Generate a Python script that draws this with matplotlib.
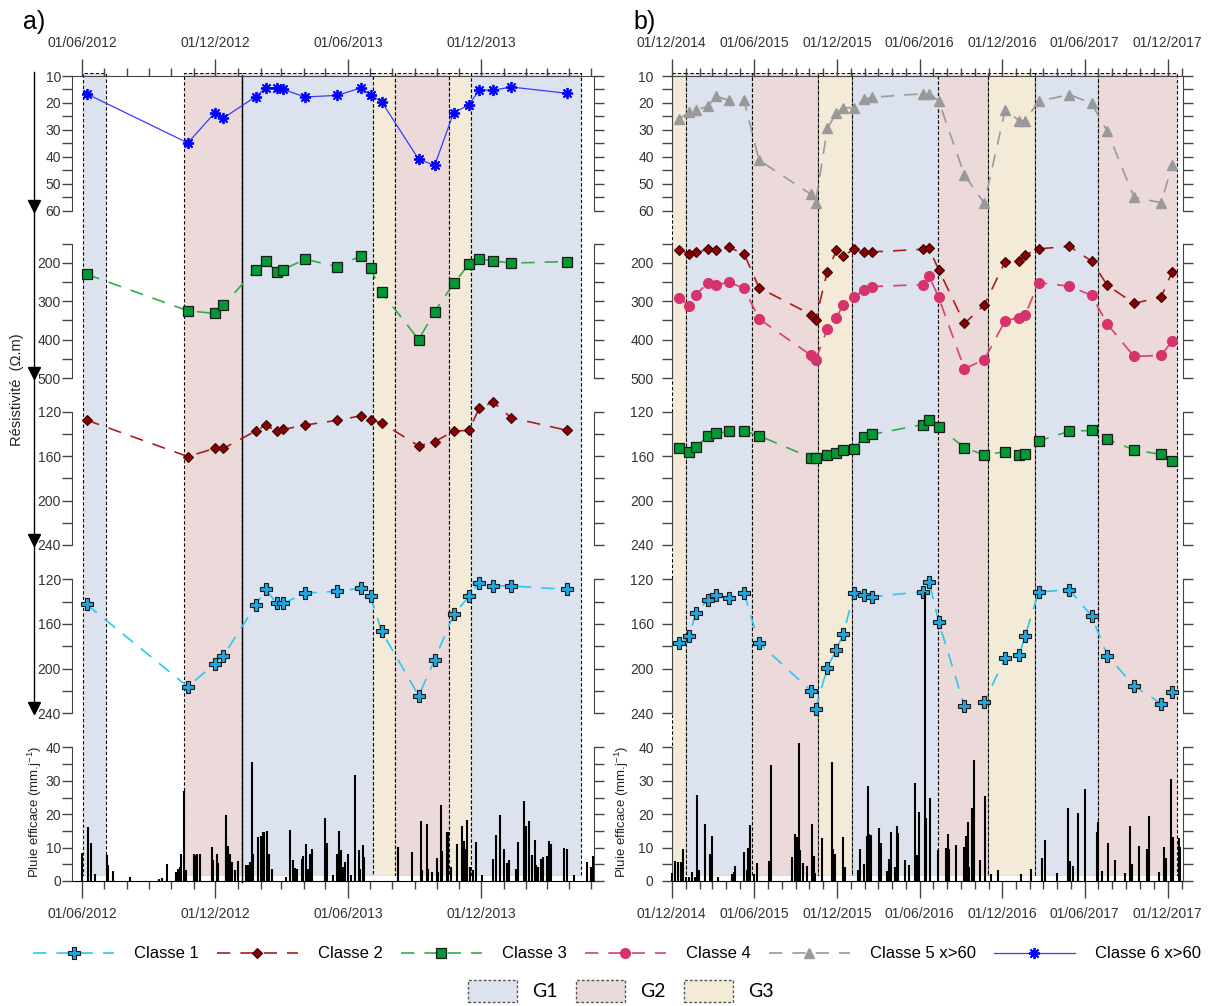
import numpy as np
import pandas as pd
import matplotlib
matplotlib.use('Agg')
import matplotlib.pyplot as plt
import matplotlib.dates as mdates
from matplotlib.lines import Line2D
from matplotlib.patches import Patch

plt.rcParams['font.family'] = ['Liberation Sans', 'DejaVu Sans']

# ---------------- panel a) data ----------------
dates_a = ['2012-06-07', '2012-10-24', '2012-11-30', '2012-12-12', '2013-01-25', '2013-02-08',
           '2013-02-23', '2013-03-04', '2013-04-03', '2013-05-17', '2013-06-19', '2013-07-02',
           '2013-07-17', '2013-09-06', '2013-09-28', '2013-10-24', '2013-11-14', '2013-11-28',
           '2013-12-17', '2014-01-11', '2014-03-28']
c6_a = [16.6, 34.9, 23.7, 25.6, 17.7, 14.5, 14.4, 15.0, 17.8, 17.2, 14.4, 17.2, 19.5, 41.0,
        43.2, 23.6, 20.8, 15.2, 15.3, 14.1, 16.4]
c3_a = [230, 325, 332, 310, 218, 196, 223, 218, 191, 210, 182, 214, 277, 400, 327, 254, 204,
        190, 195, 201, 197]
c2_a = [127.5, 160.4, 153, 153, 137.4, 132, 137.6, 136, 132, 127.8, 123.6, 127.5, 130, 150.8,
        147, 137.6, 136.7, 117, 111.3, 125.4, 136.7]
c1_a = [142.5, 216.2, 195.5, 188.3, 143.4, 129, 141.6, 141.6, 132.3, 130.8, 127.8, 135.3, 166.5,
        224.3, 191.9, 151.5, 135.3, 123, 125.7, 126, 129]

band_start_a = ['2012-06-02', '2012-10-19', '2013-01-07', '2013-07-05', '2013-08-05', '2013-10-17', '2013-11-17']
band_end_a = ['2012-07-03', '2013-01-07', '2013-07-05', '2013-08-05', '2013-10-17', '2013-11-17', '2014-04-17']
band_group_a = ['G1', 'G2', 'G1', 'G3', 'G2', 'G3', 'G1']

rain_origin_a = '2012-06-01'
rain_day_a = [0, 8, 12, 18, 34, 36, 42, 66, 105, 109,
              117, 129, 131, 134, 136, 140, 143, 153, 156, 158,
              162, 178, 180, 185, 187, 197, 198, 200, 203, 206,
              210, 214, 225, 228, 231, 233, 235, 241, 245, 248,
              250, 254, 256, 260, 280, 285, 290, 292, 295, 302,
              303, 307, 310, 313, 316, 334, 336, 344, 350, 353,
              355, 358, 361, 365, 369, 375, 380, 382, 385, 387,
              434, 453, 465, 467, 473, 475, 480, 487, 489, 493,
              494, 501, 502, 506, 515, 522, 524, 526, 529, 533,
              536, 540, 549, 564, 568, 574, 579, 583, 586, 596,
              599, 606, 608, 610, 614, 617, 621, 623, 626, 630,
              633, 638, 641, 644, 662, 665, 675, 693, 698, 701]
rain_a = [8.5, 16.3, 11.4, 2.0, 7.7, 4.7, 2.9, 1.2, 0.5, 0.9,
          5.2, 2.7, 3.7, 4.2, 8.0, 26.8, 3.2, 8.0, 7.7, 8.0,
          8.2, 10.1, 6.2, 8.1, 5.4, 13.1, 19.9, 10.6, 8.0, 5.7,
          3.2, 6.1, 4.9, 4.7, 5.7, 35.7, 8.2, 13.3, 13.6, 14.6,
          14.8, 15.0, 8.2, 3.7, 1.2, 15.3, 6.2, 3.9, 3.5, 6.7,
          7.5, 11.1, 3.7, 8.2, 9.5, 18.9, 11.4, 1.7, 8.1, 14.9,
          9.4, 4.2, 5.7, 8.2, 1.7, 31.7, 9.4, 3.7, 10.9, 7.2,
          10.1, 8.8, 18.1, 3.2, 17.1, 3.7, 2.7, 6.9, 2.7, 22.9,
          9.1, 14.6, 14.8, 4.2, 11.1, 16.4, 12.1, 9.7, 18.4, 4.2,
          3.2, 11.6, 1.7, 6.5, 13.8, 19.7, 9.5, 5.5, 6.2, 3.7,
          11.8, 24.0, 11.1, 16.6, 18.1, 7.7, 12.3, 4.7, 4.2, 6.5,
          7.2, 7.5, 12.1, 11.1, 10.0, 9.5, 1.9, 5.7, 4.2, 7.5]

# ---------------- panel b) data ----------------
dates_b = ['2014-12-18', '2015-01-09', '2015-01-23', '2015-02-19', '2015-03-09', '2015-04-06',
           '2015-05-10', '2015-06-12', '2015-10-05', '2015-10-15', '2015-11-10', '2015-11-30',
           '2015-12-15', '2016-01-08', '2016-01-29', '2016-02-17', '2016-06-08', '2016-06-22',
           '2016-07-13', '2016-09-08', '2016-10-22', '2016-12-07', '2017-01-07', '2017-01-20',
           '2017-02-19', '2017-04-28', '2017-06-16', '2017-07-21', '2017-09-18', '2017-11-17',
           '2017-12-11']
c5_b = [25.8, 23.5, 22.7, 21.2, 17.5, 19.0, 19.1, 41.3, 54.0, 57.3, 29.5, 23.7, 21.8, 21.8,
        18.7, 17.9, 16.6, 16.6, 19.2, 46.8, 57.3, 22.6, 26.6, 26.6, 19.4, 16.9, 20.2, 30.6,
        55.1, 57.1, 43.2]
c2_b = [166, 178, 173, 165, 167, 160, 177, 265, 335, 348, 223, 168, 182, 165, 171, 172, 165,
        163, 218, 358, 310, 197, 196, 180, 164, 157, 196, 259, 306, 289, 224]
c4_b = [291, 313, 283, 253, 259, 250, 267, 346, 441, 454, 372, 343, 310, 290, 272, 262, 257,
        235, 290, 476, 452, 351, 343, 337, 252, 261, 285, 360, 444, 441, 404]
c3_b = [152.6, 155.9, 152, 141.9, 139.6, 137.8, 137.2, 141.6, 161.5, 162.1, 159.1, 157.6, 154.1,
        153.8, 142.5, 140.4, 131.6, 127.1, 133.9, 152.3, 159.1, 155.9, 159.1, 157.9, 146.4, 137.5,
        136.9, 144.9, 154.4, 158.5, 164.1]
c1_b = [177.4, 171.1, 150.1, 138.6, 133.8, 137.1, 132.3, 177.1, 219.8, 236.1, 199.1, 182.9, 169.3,
        132.3, 134.1, 135.6, 131.1, 122.1, 157.9, 233.7, 229.8, 190.4, 188, 170.8, 131.4, 129.3,
        152.8, 188.3, 215.6, 231.3, 221.1]

band_start_b = ['2014-12-02', '2015-01-02', '2015-05-28', '2015-10-21', '2016-01-03', '2016-07-12',
                '2016-10-29', '2017-02-12', '2017-07-01']
band_end_b = ['2015-01-02', '2015-05-28', '2015-10-21', '2016-01-03', '2016-07-12', '2016-10-29',
              '2017-02-12', '2017-07-01', '2017-12-22']
band_group_b = ['G3', 'G1', 'G2', 'G3', 'G1', 'G2', 'G3', 'G1', 'G2']

rain_origin_b = '2014-12-01'
rain_day_b = [1, 7, 14, 20, 24, 32, 38, 44, 51, 57,
              60, 73, 85, 88, 103, 133, 138, 141, 160, 166,
              168, 172, 183, 189, 216, 219, 266, 272, 276, 278,
              281, 284, 291, 298, 309, 315, 317, 332, 355, 357,
              362, 378, 381, 384, 412, 416, 425, 432, 434, 437,
              440, 458, 462, 475, 481, 485, 493, 497, 500, 516,
              525, 537, 543, 546, 560, 562, 570, 588, 606, 610,
              613, 628, 647, 650, 654, 658, 663, 669, 682, 693,
              706, 721, 772, 794, 819, 824, 852, 875, 881, 886,
              899, 914, 939, 942, 952, 965, 980, 1002, 1012, 1018,
              1033, 1051, 1055, 1076, 1089, 1092, 1104, 1107, 1121, 1124]
rain_b = [2.3, 6.1, 5.8, 5.6, 9.5, 1.3, 1.3, 2.8, 1.3, 25.8,
          3.3, 17.2, 8.1, 13.5, 1.3, 2.0, 2.8, 4.5, 8.8, 3.3,
          10.0, 16.8, 2.0, 5.3, 6.1, 34.6, 7.1, 14.1, 13.1, 10.8,
          41.3, 9.3, 5.5, 4.5, 17.2, 7.6, 2.3, 13.0, 35.6, 9.5,
          8.1, 13.3, 3.8, 4.3, 3.3, 9.5, 5.0, 13.5, 28.3, 14.0,
          13.8, 15.8, 11.4, 3.0, 6.6, 14.6, 4.2, 16.6, 14.3, 6.3,
          4.8, 29.3, 7.8, 20.6, 86.5, 18.8, 25.0, 9.3, 9.8, 14.0,
          9.5, 10.8, 10.3, 13.6, 17.6, 4.3, 22.0, 36.3, 6.3, 25.5,
          2.0, 3.3, 2.0, 3.6, 7.0, 12.3, 2.3, 21.8, 6.0, 4.5,
          20.3, 27.6, 14.8, 17.6, 3.0, 11.3, 6.3, 2.3, 16.6, 5.0,
          10.6, 9.6, 19.6, 2.8, 10.3, 7.0, 30.6, 13.3, 12.8, 10.3]

class_names = ['Classe 1', 'Classe 2', 'Classe 3', 'Classe 4', 'Classe 5 x>60', 'Classe 6 x>60']
group_names = ['G1', 'G2', 'G3']
group_colors = {'G1': '#dce3ee', 'G2': '#ecd9d9', 'G3': '#f3ebd8'}

styles = {
    'Classe 1': dict(color='#2cc6f2', marker='P', mfc='#1fa6de', mec='#1a1a1a', ms=8.5, mew=0.8, lw=1.2, dashes=(8, 6)),
    'Classe 2': dict(color='#a81e1e', marker='D', mfc='#8b0000', mec='#3a0000', ms=5.5, mew=0.8, lw=1.2, dashes=(8, 6)),
    'Classe 3': dict(color='#2fae4c', marker='s', mfc='#009933', mec='#1a1a1a', ms=7, mew=0.9, lw=1.2, dashes=(8, 6)),
    'Classe 4': dict(color='#d9406e', marker='o', mfc='#d6336c', mec='#d6336c', ms=7, lw=1.2, dashes=(8, 6)),
    'Classe 5 x>60': dict(color='#9a9a9a', marker='^', mfc='#999999', mec='#999999', ms=7, lw=1.2, dashes=(8, 6)),
    'Classe 6 x>60': dict(color='#3a3aff', marker=(8, 2, 0), mec='#0000ff', ms=8, mew=1.3, lw=0.9),
}

# ---------------- layout (pixels) ----------------
W, H = 1209, 1006
fig = plt.figure(figsize=(W / 100, H / 100), dpi=100)

rows = [  # ytop, ybottom, value at top, value at bottom, labelled ticks, extra ticks
    (76, 210.5, 10, 60, np.arange(10, 61, 10), np.arange(15, 60, 10)),
    (243.5, 378, 150, 500, [200, 300, 400, 500], [150, 250, 350, 450]),
    (411.7, 545, 120, 240, [120, 160, 200, 240], [140, 180, 220]),
    (579.3, 713.3, 120, 240, [120, 160, 200, 240], [140, 180, 220]),
]
rain_px = 3.34   # pixels per mm
rain_bottom = 881
rain_top_val = 44


def add_ax(x0, x1, ytop, ybot):
    return fig.add_axes([x0 / W, 1 - ybot / H, (x1 - x0) / W, (ybot - ytop) / H])


def date_axis(ax, where):
    ax.xaxis.set_major_locator(mdates.MonthLocator(bymonth=(6, 12)))
    ax.xaxis.set_minor_locator(mdates.MonthLocator())
    ax.xaxis.set_major_formatter(mdates.DateFormatter('%d/%m/%Y'))
    top = where == 'top'
    ax.tick_params(axis='x', which='both', top=top, bottom=not top, labeltop=top,
                   labelbottom=not top, direction='out', color='#444', width=1,
                   labelsize=10, labelcolor='#333', pad=7)
    ax.tick_params(axis='x', which='major', length=12)
    ax.tick_params(axis='x', which='minor', length=5.5)


def y_style(ax, major, minor, pad):
    ax.set_yticks(major)
    ax.set_yticks(minor, minor=True)
    ax.tick_params(axis='y', which='both', left=True, right=True, labelleft=True,
                   labelright=False, direction='out', length=7, width=1, color='#444',
                   labelsize=10, labelcolor='#333', pad=pad)
    for s in ['left', 'right']:
        ax.spines[s].set_color('#444')


def draw_panel(x0, x1, xlim, bstart, bend, bgroup, series, rdates, rvals, pad, solid_edge=None):
    xlim = pd.to_datetime(xlim)
    # shaded periods
    bg = add_ax(x0, x1, 73, rain_bottom - 1.5 * rain_px)
    bg.set_xlim(xlim)
    bg.set_ylim(0, 1)
    bg.axis('off')
    for s, e, g in zip(pd.to_datetime(bstart), pd.to_datetime(bend), bgroup):
        bg.axvspan(s, e, facecolor=group_colors[g], edgecolor='k', lw=0.8,
                   linestyle=(0, (3, 2)))
    if solid_edge is not None:
        bg.axvline(pd.Timestamp(solid_edge), ymin=-0.007, ymax=0.996, color='k', lw=1, clip_on=False)

    handles = {}
    for i, (yt, yb, vtop, vbot, major, minor) in enumerate(rows):
        ax = add_ax(x0, x1, yt, yb)
        ax.patch.set_visible(False)
        ax.set_xlim(xlim)
        ax.set_ylim(vbot, vtop)
        y_style(ax, major, minor, pad)
        ax.spines['bottom'].set_visible(False)
        if i == 0:
            ax.spines['top'].set_color('#444')
            date_axis(ax, 'top')
        else:
            ax.spines['top'].set_visible(False)
            ax.tick_params(axis='x', which='both', bottom=False, labelbottom=False)
        for name, dates, vals in series[i]:
            ln, = ax.plot(pd.to_datetime(dates), vals, clip_on=False, zorder=3, **styles[name])
            handles[name] = ln

    # effective rainfall
    ra = add_ax(x0, x1, rain_bottom - rain_top_val * rain_px, rain_bottom)
    ra.patch.set_visible(False)
    ra.set_xlim(xlim)
    ra.set_ylim(0, rain_top_val)
    ra.vlines(rdates, 0, rvals, color='k', lw=1.5, clip_on=False, zorder=3)
    y_style(ra, np.arange(0, 41, 10), np.arange(5, 40, 10), pad)
    ra.spines['left'].set_bounds(0, 40)
    ra.spines['right'].set_bounds(0, 40)
    ra.spines['top'].set_visible(False)
    date_axis(ra, 'bottom')
    return handles


rd_a = pd.Timestamp(rain_origin_a) + pd.to_timedelta(rain_day_a, unit='D')
rd_b = pd.Timestamp(rain_origin_b) + pd.to_timedelta(rain_day_b, unit='D')

series_a = [
    [('Classe 6 x>60', dates_a, c6_a)],
    [('Classe 3', dates_a, c3_a)],
    [('Classe 2', dates_a, c2_a)],
    [('Classe 1', dates_a, c1_a)],
]
series_b = [
    [('Classe 5 x>60', dates_b, c5_b)],
    [('Classe 4', dates_b, c4_b), ('Classe 2', dates_b, c2_b)],
    [('Classe 3', dates_b, c3_b)],
    [('Classe 1', dates_b, c1_b)],
]

h_a = draw_panel(72, 593.5, ['2012-05-18', '2014-05-04'], band_start_a, band_end_a,
                 band_group_a, series_a, rd_a, rain_a, pad=1, solid_edge=band_end_a[1])
h_b = draw_panel(671.7, 1182.5, ['2014-12-01', '2018-01-03'], band_start_b, band_end_b,
                 band_group_b, series_b, rd_b, rain_b, pad=6)
handles = {**h_b, **h_a}

# panel letters and axis titles
fig.text(23 / W, 1 - 22 / H, 'a)', fontsize=18, va='center')
fig.text(633 / W, 1 - 22 / H, 'b)', fontsize=18, va='center')
fig.text(17 / W, 1 - 390 / H, 'Résistivité  (Ω.m)', rotation=90, ha='center', va='center',
         fontsize=10.5, color='#222')
for xp in (35, 622):
    fig.text(xp / W, 1 - 812 / H, r'Pluie efficace (mm.j$^{\mathregular{-1}}$)', rotation=90,
             ha='center', va='center', fontsize=9.5, color='#222')

# depth arrow on the left
fig.add_artist(Line2D([34 / W, 34 / W], [1 - 72 / H, 1 - (rows[-1][1] - 4) / H], color='k', lw=1))
fig.add_artist(Line2D([34 / W] * len(rows), [1 - (r[1] - 5) / H for r in rows], ls='none',
                      marker='v', ms=9, color='k'))

# legends
fig.legend([handles[n] for n in class_names], class_names, loc='center',
           bbox_to_anchor=(617 / W, 1 - 954 / H), ncol=6, frameon=False, fontsize=12,
           handlelength=4.85, handletextpad=1.2, columnspacing=1.1)
patches = [Patch(facecolor=group_colors[g], edgecolor='#555', linestyle=(0, (2, 1.5)), lw=1)
           for g in group_names]
fig.legend(patches, group_names, loc='center', bbox_to_anchor=(621 / W, 1 - 991 / H), ncol=3,
           frameon=False, prop={'family': 'Lato', 'size': 14}, handlelength=2.5,
           handleheight=1.4, handletextpad=0.8, columnspacing=0.95)

fig.savefig('out.png', dpi=100)
